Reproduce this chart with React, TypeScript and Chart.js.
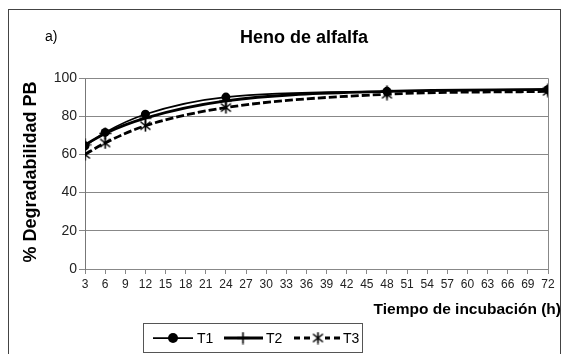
import { useEffect, useRef } from "react";
import { Chart, registerables } from "chart.js";

Chart.register(...registerables);

// Incubation times (h) and degradability values (%) per treatment
const hours = [3, 6, 12, 24, 48, 72];
const t1 = [64.5, 71.5, 81, 90, 93, 94];
const t2 = [65, 71, 79, 88, 93, 94];
const t3 = [60, 66, 75, 84.5, 91.5, 93];
const seriesNames = ["T1", "T2", "T3"];

const chartTitle = "Heno de alfalfa";
const panelLabel = "a)";
const xTitle = "Tiempo de incubación (h)";
const yTitle = "% Degradabilidad PB";
const xMin = 3;
const xMax = 72;
const xStep = 3;
const yMin = 0;
const yMax = 100;
const yStep = 20;

const FONT = "'Liberation Sans', Arial, Helvetica, sans-serif";
const W = 567;
const H = 354;
const DASH = [8, 3];

function makeCanvas(size: number, draw: (ctx: CanvasRenderingContext2D) => void) {
  const c = document.createElement("canvas");
  c.width = size;
  c.height = size;
  const ctx = c.getContext("2d")!;
  ctx.strokeStyle = "#000";
  ctx.lineWidth = 1.6;
  draw(ctx);
  return c;
}

// "+" marker
const plusMarker = makeCanvas(13, (ctx) => {
  ctx.beginPath();
  ctx.moveTo(6.5, 0.5);
  ctx.lineTo(6.5, 12.5);
  ctx.moveTo(0.5, 6.5);
  ctx.lineTo(12.5, 6.5);
  ctx.stroke();
});

// "x" with a vertical bar marker
const starMarker = makeCanvas(13, (ctx) => {
  ctx.beginPath();
  ctx.moveTo(1.5, 2.5);
  ctx.lineTo(11.5, 10.5);
  ctx.moveTo(11.5, 2.5);
  ctx.lineTo(1.5, 10.5);
  ctx.moveTo(6.5, 0.5);
  ctx.lineTo(6.5, 12.5);
  ctx.stroke();
});

const toPoints = (vals: number[]) => hours.map((h, i) => ({ x: h, y: vals[i] }));

const decorPlugin = {
  id: "decor",
  afterDraw(chart: Chart) {
    const ctx = chart.ctx;
    const area = chart.chartArea;
    ctx.save();

    // plot frame (top and right)
    ctx.strokeStyle = "#888";
    ctx.lineWidth = 1;
    ctx.beginPath();
    ctx.moveTo(area.left, Math.round(area.top) + 0.5);
    ctx.lineTo(Math.round(area.right) + 0.5, Math.round(area.top) + 0.5);
    ctx.lineTo(Math.round(area.right) + 0.5, area.bottom);
    ctx.stroke();

    // outer frame
    ctx.strokeStyle = "#444";
    ctx.strokeRect(8.5, 9.5, 552, 400);

    ctx.fillStyle = "#000";
    // panel label
    ctx.font = `14px ${FONT}`;
    ctx.textAlign = "left";
    ctx.textBaseline = "alphabetic";
    ctx.fillText(panelLabel, 45, 41);

    // title
    ctx.font = `bold 18px ${FONT}`;
    ctx.textAlign = "center";
    ctx.fillText(chartTitle, 304, 43);

    // axis titles
    ctx.font = `bold 15.5px ${FONT}`;
    ctx.textAlign = "right";
    ctx.fillText(xTitle, 561, 314);

    ctx.save();
    ctx.translate(31, 172);
    ctx.rotate(-Math.PI / 2);
    ctx.font = `bold 18px ${FONT}`;
    ctx.textAlign = "center";
    ctx.textBaseline = "middle";
    ctx.fillText(yTitle, 0, 0);
    ctx.restore();

    // legend
    ctx.strokeStyle = "#555";
    ctx.lineWidth = 1;
    ctx.strokeRect(143.5, 323.5, 219, 29);
    const cy = 338;
    ctx.strokeStyle = "#000";
    ctx.font = `14px ${FONT}`;
    ctx.textAlign = "left";
    ctx.textBaseline = "middle";

    // T1
    ctx.lineWidth = 1.75;
    ctx.beginPath();
    ctx.moveTo(153, cy);
    ctx.lineTo(193, cy);
    ctx.stroke();
    ctx.beginPath();
    ctx.arc(173, cy, 5, 0, Math.PI * 2);
    ctx.fill();
    ctx.fillText(seriesNames[0], 197, cy + 1);

    // T2
    ctx.lineWidth = 2.8;
    ctx.beginPath();
    ctx.moveTo(224, cy);
    ctx.lineTo(263, cy);
    ctx.stroke();
    ctx.drawImage(plusMarker, 243 - 6.5, cy - 6.5);
    ctx.fillText(seriesNames[1], 266, cy + 1);

    // T3
    ctx.setLineDash([6, 4]);
    ctx.beginPath();
    ctx.moveTo(294, cy);
    ctx.lineTo(342, cy);
    ctx.stroke();
    ctx.setLineDash([]);
    ctx.fillStyle = "#fff";
    ctx.fillRect(312, cy - 6, 13, 12);
    ctx.fillStyle = "#000";
    ctx.drawImage(starMarker, 318 - 6.5, cy - 6.5);
    ctx.fillText(seriesNames[2], 343, cy + 1);

    ctx.restore();
  },
};

export default function App() {
  const ref = useRef<HTMLCanvasElement | null>(null);

  useEffect(() => {
    if (!ref.current) return;
    const chart = new Chart(ref.current, {
      type: "line",
      data: {
        datasets: [
          {
            label: seriesNames[0],
            data: toPoints(t1),
            borderColor: "#000",
            backgroundColor: "#000",
            borderWidth: 1.75,
            pointStyle: "circle",
            pointRadius: 4.5,
            pointBackgroundColor: "#000",
            pointBorderColor: "#000",
            pointBorderWidth: 0,
            cubicInterpolationMode: "monotone",
            order: 3,
          },
          {
            label: seriesNames[1],
            data: toPoints(t2),
            borderColor: "#000",
            borderWidth: 2.8,
            pointStyle: plusMarker,
            pointRadius: 6,
            cubicInterpolationMode: "monotone",
            order: 2,
          },
          {
            label: seriesNames[2],
            data: toPoints(t3),
            borderColor: "#000",
            borderWidth: 2.8,
            borderDash: DASH,
            pointStyle: starMarker,
            pointRadius: 6,
            cubicInterpolationMode: "monotone",
            order: 1,
          },
        ],
      },
      options: {
        responsive: false,
        animation: false,
        devicePixelRatio: 1,
        layout: { padding: { top: 78, right: 19, bottom: 0, left: 0 } },
        plugins: {
          legend: { display: false },
          tooltip: { enabled: false },
          title: { display: false },
        },
        scales: {
          x: {
            type: "linear",
            min: xMin,
            max: xMax,
            afterFit: (s: any) => {
              s.height = 85;
            },
            ticks: {
              stepSize: xStep,
              autoSkip: false,
              maxRotation: 0,
              color: "#222",
              padding: 3,
              font: { family: FONT, size: 12 },
            },
            grid: { drawOnChartArea: false, drawTicks: true, tickLength: 5, color: "#888" },
            border: { color: "#888" },
          },
          y: {
            min: yMin,
            max: yMax,
            afterFit: (s: any) => {
              s.width = 85;
            },
            ticks: {
              stepSize: yStep,
              color: "#222",
              padding: 2,
              font: { family: FONT, size: 14 },
            },
            grid: { color: "#888", tickLength: 6 },
            border: { color: "#777" },
          },
        },
      },
      plugins: [decorPlugin],
    });
    return () => chart.destroy();
  }, []);

  return (
    <div style={{ position: "absolute", left: 0, top: 0, width: W, height: H, background: "#fff" }}>
      <canvas ref={ref} width={W} height={H} style={{ display: "block", width: W, height: H }} />
    </div>
  );
}
